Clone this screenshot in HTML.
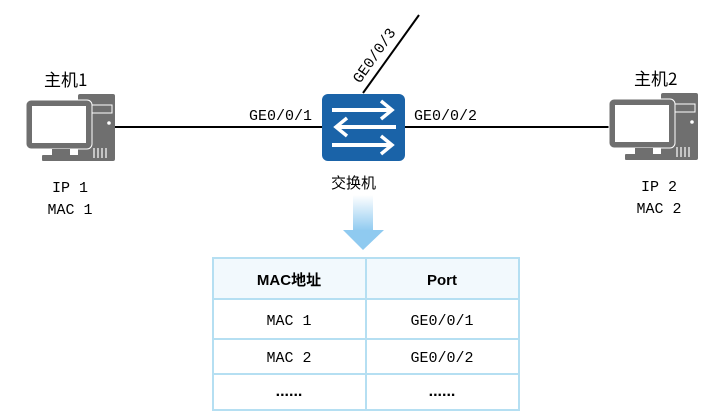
<!DOCTYPE html>
<html><head><meta charset="utf-8"><style>
html,body{margin:0;padding:0;background:#fff;}
svg{display:block;}
</style></head><body>
<svg width="728" height="418" viewBox="0 0 728 418" xmlns="http://www.w3.org/2000/svg">
<defs>
<g id="pc">
  <rect x="52" y="0" width="37" height="67" rx="2" fill="#6f6f6f"/>
  <rect x="58" y="11" width="28" height="8" fill="none" stroke="#fff" stroke-width="1"/>
  <circle cx="83" cy="29" r="1.8" fill="#fff"/>
  <g stroke="#fff" stroke-width="1.2"><line x1="68" y1="54" x2="68" y2="64"/><line x1="72" y1="54" x2="72" y2="64"/><line x1="76" y1="54" x2="76" y2="64"/><line x1="80" y1="54" x2="80" y2="64"/></g>
  <rect x="0" y="6" width="66" height="49" rx="5" fill="#6f6f6f" stroke="#fff" stroke-width="1"/>
  <rect x="6" y="12" width="54" height="37" fill="#fff"/>
  <rect x="26" y="55" width="18" height="7" fill="#6f6f6f"/>
  <rect x="16" y="61" width="40" height="6" rx="1" fill="#6f6f6f"/>
</g>
<linearGradient id="ag" x1="0" y1="0" x2="0" y2="1">
  <stop offset="0" stop-color="#ffffff"/><stop offset="1" stop-color="#8fcaf0"/>
</linearGradient>
</defs>
<g font-family="'Liberation Mono','Noto Sans CJK SC',monospace" font-size="15" fill="#000">
<line x1="115" y1="127" x2="322" y2="127" stroke="#000" stroke-width="2"/>
<line x1="405" y1="127" x2="612" y2="127" stroke="#000" stroke-width="2"/>
<line x1="363" y1="93" x2="419" y2="15" stroke="#000" stroke-width="2"/>
<use href="#pc" x="26" y="94"/>
<use href="#pc" x="609" y="93"/>
<rect x="322" y="94" width="83" height="67" rx="6" fill="#1a63a8"/>
<g stroke="#fff" stroke-width="4" fill="none" stroke-linecap="butt">
  <line x1="332" y1="110" x2="390" y2="110"/><polyline points="381,101 392,110 381,119" stroke-width="3.5"/>
  <line x1="396" y1="127" x2="338" y2="127"/><polyline points="347,118 336,127 347,136" stroke-width="3.5"/>
  <line x1="332" y1="145" x2="390" y2="145"/><polyline points="381,136 392,145 381,154" stroke-width="3.5"/>
</g>
<text x="249" y="120">GE0/0/1</text>
<text x="414" y="120">GE0/0/2</text>
<text x="0" y="0" transform="translate(360,84) rotate(-55)">GE0/0/3</text>
<text x="44" y="86" font-family="'Noto Sans CJK SC','Liberation Sans',sans-serif" font-size="17">主机1</text>
<text x="634" y="85" font-family="'Noto Sans CJK SC','Liberation Sans',sans-serif" font-size="17">主机2</text>
<text x="331" y="188" font-family="'Noto Sans CJK SC',sans-serif" font-size="15">交换机</text>
<text x="70" y="192" text-anchor="middle">IP 1</text>
<text x="70" y="214" text-anchor="middle">MAC 1</text>
<text x="659" y="191" text-anchor="middle">IP 2</text>
<text x="659" y="213" text-anchor="middle">MAC 2</text>
<rect x="353" y="195" width="20" height="36" fill="url(#ag)"/>
<polygon points="343,230 384,230 363,250" fill="#8fcaf0"/>
<rect x="213" y="258" width="306" height="41" fill="#f2f9fd"/>
<g stroke="#b5dff2" stroke-width="2" fill="none">
  <rect x="213" y="258" width="306" height="152"/>
  <line x1="213" y1="299" x2="519" y2="299"/>
  <line x1="213" y1="339" x2="519" y2="339"/>
  <line x1="213" y1="374" x2="519" y2="374"/>
  <line x1="366" y1="258" x2="366" y2="410"/>
</g>
<text x="289" y="285" text-anchor="middle" font-weight="bold" font-family="'Liberation Sans','Noto Sans CJK SC',sans-serif">MAC地址</text>
<text x="442" y="285" text-anchor="middle" font-weight="bold" font-family="'Liberation Sans',sans-serif">Port</text>
<text x="289" y="325" text-anchor="middle">MAC 1</text>
<text x="442" y="325" text-anchor="middle">GE0/0/1</text>
<text x="289" y="362" text-anchor="middle">MAC 2</text>
<text x="442" y="362" text-anchor="middle">GE0/0/2</text>
<text x="289" y="396" text-anchor="middle" font-weight="bold" font-family="'Liberation Sans',sans-serif" font-size="16">......</text>
<text x="442" y="396" text-anchor="middle" font-weight="bold" font-family="'Liberation Sans',sans-serif" font-size="16">......</text>
</g>
</svg>
</body></html>
